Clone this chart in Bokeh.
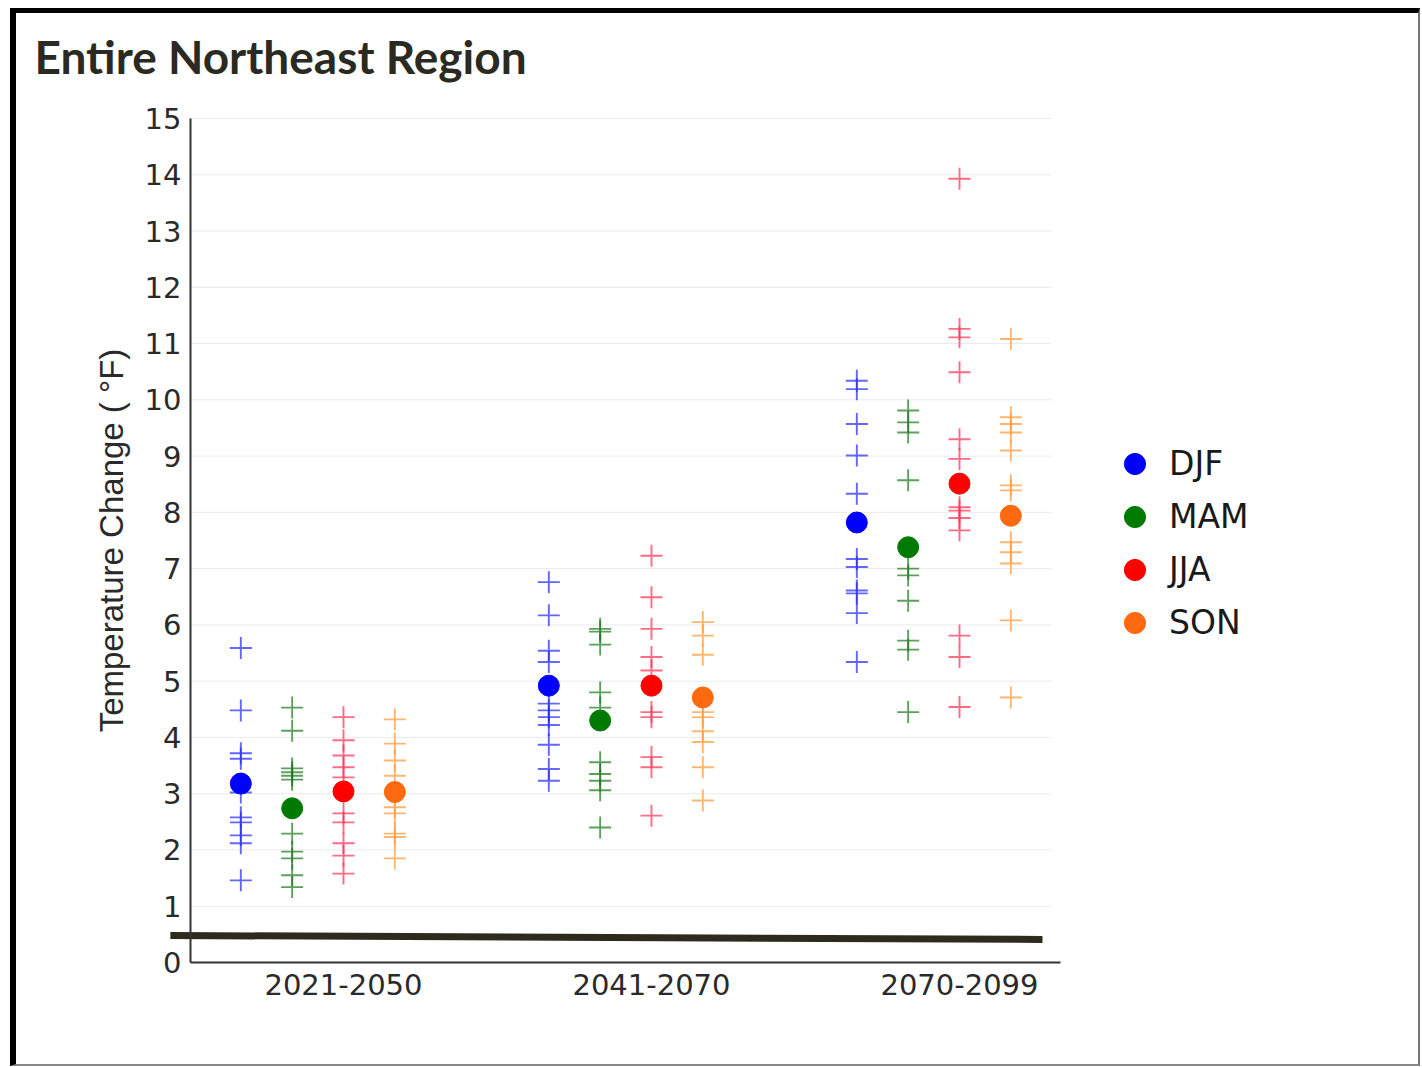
from bokeh.plotting import figure
from bokeh.models import FixedTicker, Legend, LegendItem, Label
from bokeh.embed import file_html
from bokeh.resources import INLINE

# ---------------- data ----------------
periods = ["2021-2050", "2041-2070", "2070-2099"]
seasons = ["DJF", "MAM", "JJA", "SON"]

# individual model projections (crosses), one list per period
djf_runs = [
    [5.59, 4.48, 3.72, 3.62, 3.02, 2.58, 2.49, 2.26, 2.12, 1.46],
    [6.76, 6.17, 5.54, 5.34, 4.60, 4.48, 4.36, 4.22, 3.87, 3.44, 3.23],
    [10.34, 10.19, 9.57, 9.01, 8.33, 7.17, 7.03, 6.61, 6.56, 6.21, 5.34],
]
mam_runs = [
    [4.53, 4.12, 3.45, 3.38, 3.32, 3.25, 2.29, 1.97, 1.85, 1.55, 1.34],
    [5.93, 5.88, 5.65, 4.80, 4.53, 3.56, 3.35, 3.23, 3.06, 2.40],
    [9.81, 9.60, 9.42, 8.57, 7.00, 6.88, 6.43, 5.72, 5.56, 4.45],
]
jja_runs = [
    [4.36, 3.95, 3.68, 3.47, 3.29, 2.65, 2.49, 2.12, 1.90, 1.58],
    [7.23, 6.49, 5.93, 5.43, 5.19, 4.45, 4.36, 3.65, 3.47, 2.61],
    [13.93, 11.26, 11.11, 10.49, 9.30, 8.95, 8.09, 8.03, 7.90, 7.68, 5.81, 5.43, 4.54],
]
son_runs = [
    [4.32, 3.89, 3.59, 3.32, 2.76, 2.65, 2.29, 2.23, 1.85],
    [6.05, 5.81, 5.47, 4.45, 4.36, 4.11, 3.92, 3.47, 2.88],
    [11.08, 9.69, 9.57, 9.42, 9.10, 8.48, 8.39, 7.47, 7.29, 7.09, 6.08, 4.71],
]
# multi-model means (large dots)
djf_mean = [3.18, 4.92, 7.82]
mam_mean = [2.74, 4.30, 7.38]
jja_mean = [3.04, 4.92, 8.51]
son_mean = [3.03, 4.71, 7.94]

y_ticks = list(range(0, 16))
title_text = "Entire Northeast Region"
y_label = "Temperature Change ( \u00b0F)"

# ---------------- layout / styling ----------------
offsets = [-1 / 3, -1 / 6, 0.0, 1 / 6]
dot_colors = ["#0000ff", "#007a00", "#ff0000", "#ff6a10"]
cross_colors = ["#2a2aff", "#1f7a1f", "#ff3355", "#ff9a3a"]
runs_all = [djf_runs, mam_runs, jja_runs, son_runs]
means_all = [djf_mean, mam_mean, jja_mean, son_mean]

x_axis_bounds = (-0.497, 2.328)      # visible extent of the x axis line
y_axis_bounds = (0, 15)
x_view = (-1.0292, 3.4318)           # frame also hosts title, legend, tick labels
y_view = (-1.6528, 16.688)
rule_x = (-0.562, 2.2695)            # thick rule drawn under the data
rule_y = (0.48, 0.41)

p = figure(width=1410, height=1058, output_backend="svg", toolbar_location=None,
           x_range=x_view, y_range=y_view,
           min_border_left=10, min_border_right=26, min_border_top=10, min_border_bottom=16)
p.styles = {"margin-left": "10px", "margin-top": "8px",
            "border-left": "6px solid #000000", "border-top": "5px solid #000000",
            "border-right": "2px solid #777777", "border-bottom": "2px solid #888888"}
p.outline_line_color = None
p.background_fill_color = "white"
p.border_fill_color = "white"
p.xgrid.grid_line_color = None
p.ygrid.grid_line_color = None

# faint horizontal guide lines
p.segment(x0=[x_axis_bounds[0]] * len(y_ticks[1:]), x1=[x_axis_bounds[1] - 0.03] * len(y_ticks[1:]),
          y0=y_ticks[1:], y1=y_ticks[1:], line_color="#ebebeb", line_width=1)

# crosses
for j in range(4):
    xs, ys = [], []
    for i, vals in enumerate(runs_all[j]):
        for v in vals:
            xs.append(i + offsets[j])
            ys.append(v)
    p.scatter(xs, ys, marker="cross", size=22, line_color=cross_colors[j], line_width=1.9,
              line_alpha=0.72)

# means
mean_renderers = []
for j in range(4):
    xs = [i + offsets[j] for i in range(len(periods))]
    r = p.scatter(xs, means_all[j], marker="circle", size=21, fill_color=dot_colors[j],
                  line_color=dot_colors[j], line_width=1)
    mean_renderers.append(r)

# thick rule
p.segment(x0=[rule_x[0]], y0=[rule_y[0]], x1=[rule_x[1]], y1=[rule_y[1]],
          line_color="#2e2a1e", line_width=7)

# axes
xa, ya = p.xaxis[0], p.yaxis[0]
xa.ticker = FixedTicker(ticks=list(range(len(periods))))
xa.major_label_overrides = {i: lab for i, lab in enumerate(periods)}
xa.bounds = x_axis_bounds
xa.fixed_location = 0
ya.ticker = FixedTicker(ticks=y_ticks)
ya.bounds = y_axis_bounds
ya.fixed_location = x_axis_bounds[0]
for ax in (xa, ya):
    ax.major_tick_line_color = None
    ax.minor_tick_line_color = None
    ax.axis_line_color = "#333333"
    ax.axis_line_width = 2
    ax.major_label_text_font = "DejaVu Sans"
    ax.major_label_text_color = "#2a2a2a"
xa.major_label_text_font_size = "29px"
ya.major_label_text_font_size = "29px"
xa.major_label_standoff = 5
ya.major_label_standoff = 3
ya.axis_label = y_label
ya.axis_label_text_font = "Liberation Sans"
ya.axis_label_text_font_style = "normal"
ya.axis_label_text_font_size = "33px"
ya.axis_label_text_color = "#2a2a2a"
ya.axis_label_standoff = 12

# legend
legend = Legend(items=[LegendItem(label=s, renderers=[r]) for s, r in zip(seasons, mean_renderers)],
                location=(1082, 406), orientation="vertical",
                glyph_width=53, glyph_height=53, spacing=0, padding=0, margin=0,
                label_standoff=8, border_line_color=None, background_fill_alpha=0,
                label_text_font="DejaVu Sans", label_text_font_size="33px",
                label_text_color="#1a1a1a")
p.add_layout(legend, "center")

# title
p.add_layout(Label(x=8, y=999, x_units="screen", y_units="screen", text=title_text,
                   text_font="Lato", text_font_style="bold", text_font_size="46px",
                   text_color="#2b2a22", text_baseline="alphabetic"))

open("out.html", "w").write(file_html(p, INLINE))
